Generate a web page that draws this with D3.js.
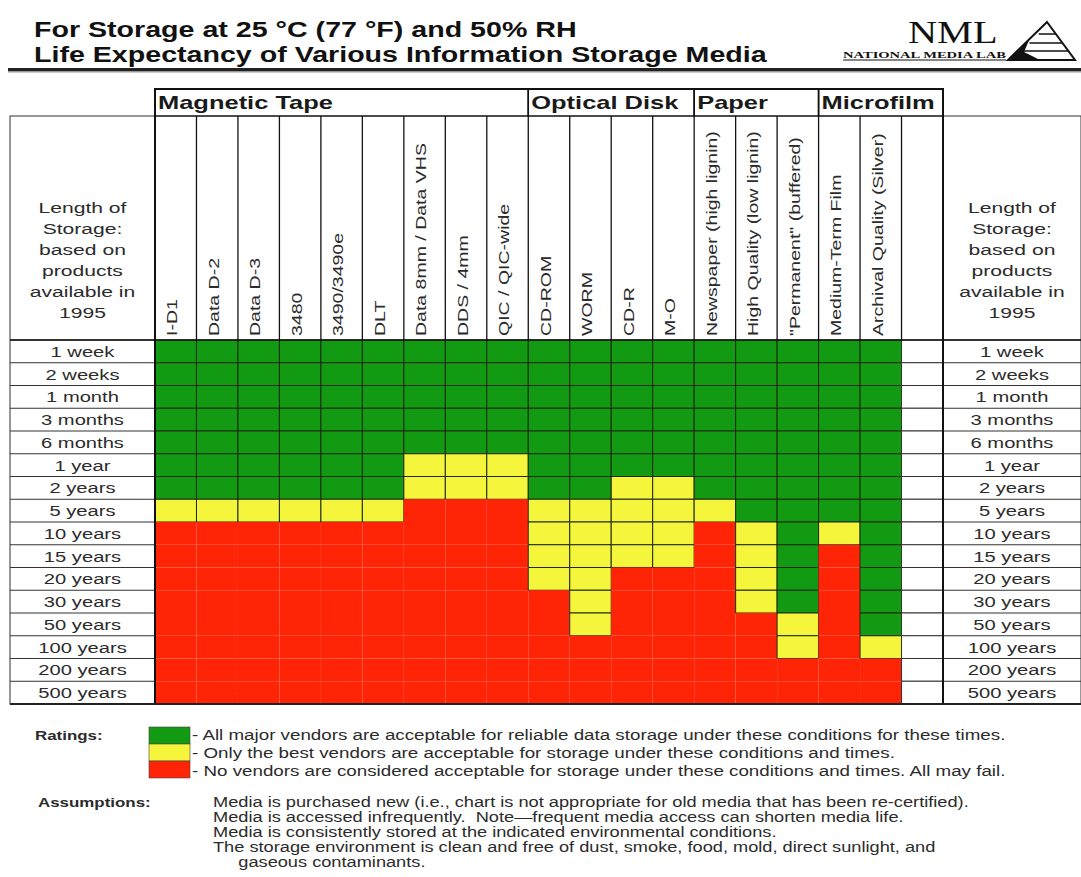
<!DOCTYPE html>
<html>
<head>
<meta charset="utf-8">
<script src="https://cdn.jsdelivr.net/npm/d3@7"></script>
<style>
	body { margin: 0; background: #fff; }
	text { font-family: "Liberation Sans", Arial, sans-serif; fill: #2b2b2b; }
</style>
</head>
<body>
<div id="chart"></div>
<script>
var titleLines = ['For Storage at 25 \u00B0C (77 \u00B0F) and 50% RH', 'Life Expectancy of Various Information Storage Media'];

var groupNames = ['Magnetic Tape', 'Optical Disk', 'Paper', 'Microfilm'];

var media = ['I-D1', 'Data D-2', 'Data D-3', '3480', '3490/3490e', 'DLT', 'Data 8mm / Data VHS', 'DDS / 4mm', 'QIC / QIC-wide',
	'CD-ROM', 'WORM', 'CD-R', 'M-O',
	'Newspaper (high lignin)', 'High Quality (low lignin)', '"Permanent" (buffered)',
	'Medium-Term Film', 'Archival Quality (Silver)'];
var mediaGroup = [0, 0, 0, 0, 0, 0, 0, 0, 0, 1, 1, 1, 1, 2, 2, 2, 3, 3];

var durations = ['1 week', '2 weeks', '1 month', '3 months', '6 months', '1 year', '2 years', '5 years',
	'10 years', '15 years', '20 years', '30 years', '50 years', '100 years', '200 years', '500 years'];

// rows rated green from the top, then rows rated yellow; the rest are red
var greenRows = [7, 7, 7, 7, 7, 7, 5, 5, 5, 7, 7, 6, 6, 7, 8, 12, 8, 13];
var yellowRows = [1, 1, 1, 1, 1, 1, 2, 2, 2, 4, 6, 4, 4, 1, 4, 2, 1, 1];

var sideHead = ['Length of', 'Storage:', 'based on', 'products', 'available in', '1995'];

var ratingText = [
	'- All major vendors are acceptable for reliable data storage under these conditions for these times.',
	'- Only the best vendors are acceptable for storage under these conditions and times.',
	'- No vendors are considered acceptable for storage under these conditions and times.  All may fail.'
];
var assumptionText = [
	'Media is purchased new (i.e., chart is not appropriate for old media that has been re-certified).',
	'Media is accessed infrequently.  Note\u2014frequent media access can shorten media life.',
	'Media is consistently stored at the indicated environmental conditions.',
	'The storage environment is clean and free of dust, smoke, food, mold, direct sunlight, and',
	'     gaseous contaminants.'
];

var colors = {'g': '#139a13', 'y': '#f5f53c', 'r': '#ff2406'};
var K = 1.3; // the source picture is stretched sideways

var width = 1081, height = 877;
var gridLeft = 155, gridRight = 943, headTop = 89, groupBottom = 116, dataTop = 340, dataBottom = 704;

var svg = d3.select('#chart').append('svg')
	.attr('width', width)
	.attr('height', height);

function stretch(sel, k) {
	sel.each(function() {
		var w = this.getComputedTextLength();
		d3.select(this)
			.attr('textLength', w * k)
			.attr('lengthAdjust', 'spacingAndGlyphs');
	});
}

var x = d3.scaleBand()
	.domain(media.concat(['']))
	.range([gridLeft, gridRight]);

var y = d3.scaleBand()
	.domain(durations)
	.range([dataTop, dataBottom]);

/*
 * Title and logo
 */
svg.selectAll('.title')
	.data(titleLines)
	.enter()
		.append('text')
			.attr('class', 'title')
			.attr('x', 34)
			.attr('y', function(d, i) { return 37 + i * 25; })
			.style('font-size', '22px')
			.style('font-weight', 'bold')
			.style('fill', '#111')
			.text(function(d) { return d; })
			.call(stretch, K);

svg.append('rect')
	.attr('x', 8).attr('y', 68)
	.attr('width', width - 8).attr('height', 3)
	.attr('fill', '#222');
svg.append('rect')
	.attr('x', 8).attr('y', 71)
	.attr('width', width - 8).attr('height', 1.5)
	.attr('fill', '#999');

svg.append('text')
	.attr('x', 908).attr('y', 43)
	.style('font-family', '"Liberation Serif", "DejaVu Serif", serif')
	.style('font-size', '31px')
	.style('fill', '#111')
	.text('NML')
	.call(stretch, K);

svg.append('text')
	.attr('x', 843).attr('y', 58)
	.attr('textLength', 163).attr('lengthAdjust', 'spacingAndGlyphs')
	.style('font-family', '"Liberation Serif", "DejaVu Serif", serif')
	.style('font-size', '8.5px')
	.style('font-weight', 'bold')
	.style('fill', '#111')
	.text('NATIONAL MEDIA LAB');

svg.append('line')
	.attr('x1', 843).attr('x2', 1006).attr('y1', 60).attr('y2', 60)
	.attr('stroke', '#111').attr('stroke-width', 1);

var tri = svg.append('g').attr('fill', 'none').attr('stroke', '#111');
tri.append('path')
	.attr('d', 'M1047,22 L1075,60 L1008,60 Z')
	.attr('stroke-width', 2);
[34, 43, 51].forEach(function(ty) {
	var t = (ty - 22) / 38;
	tri.append('line')
		.attr('x1', 1047 - 39 * t + 4).attr('x2', 1047 + 28 * t)
		.attr('y1', ty).attr('y2', ty)
		.attr('stroke-width', 1.5);
});
tri.append('path')
	.attr('d', 'M1008,60 L1030,38 L1024,52 L1040,60 Z')
	.attr('fill', '#111').attr('stroke', 'none');

/*
 * Cells
 */
var cells = [];
media.forEach(function(m, i) {
	durations.forEach(function(d, j) {
		var r = j < greenRows[i] ? 'g' : (j < greenRows[i] + yellowRows[i] ? 'y' : 'r');
		cells.push({'media': m, 'duration': d, 'rating': r});
	});
});

svg.selectAll('.cell')
	.data(cells)
	.enter()
		.append('rect')
			.attr('class', 'cell')
			.attr('x', function(d) { return x(d['media']); })
			.attr('y', function(d) { return y(d['duration']); })
			.attr('width', x.bandwidth())
			.attr('height', y.bandwidth())
			.attr('fill', function(d) { return colors[d['rating']]; })
			.attr('stroke', function(d) { return d['rating'] == 'r' ? 'none' : '#1e2a10'; })
			.attr('stroke-width', 1);

// empty last column
svg.selectAll('.blank')
	.data(durations)
	.enter()
		.append('rect')
			.attr('class', 'blank')
			.attr('x', x(''))
			.attr('y', function(d) { return y(d); })
			.attr('width', x.bandwidth())
			.attr('height', y.bandwidth())
			.attr('fill', '#fff')
			.attr('stroke', '#333');

/*
 * Header: groups and rotated media names
 */
var groups = groupNames.map(function(g, gi) {
	var cols = media.filter(function(m, i) { return mediaGroup[i] == gi; });
	var x0 = x(cols[0]);
	var x1 = gi == groupNames.length - 1 ? gridRight : x(cols[cols.length - 1]) + x.bandwidth();
	return {'name': g, 'x0': x0, 'x1': x1};
});

svg.selectAll('.groupBox')
	.data(groups)
	.enter()
		.append('rect')
			.attr('class', 'groupBox')
			.attr('x', function(d) { return d['x0']; })
			.attr('y', headTop)
			.attr('width', function(d) { return d['x1'] - d['x0']; })
			.attr('height', groupBottom - headTop)
			.attr('fill', 'none')
			.attr('stroke', '#111')
			.attr('stroke-width', 1.5);

svg.selectAll('.groupName')
	.data(groups)
	.enter()
		.append('text')
			.attr('class', 'groupName')
			.attr('x', function(d) { return d['x0'] + 3; })
			.attr('y', 109)
			.style('font-size', '19px')
			.style('font-weight', 'bold')
			.style('fill', '#1a1a1a')
			.text(function(d) { return d['name']; })
			.call(stretch, 1.34);

svg.selectAll('.colLine')
	.data(x.domain())
	.enter()
		.append('line')
			.attr('class', 'colLine')
			.attr('x1', function(d) { return x(d); })
			.attr('x2', function(d) { return x(d); })
			.attr('y1', groupBottom)
			.attr('y2', dataTop)
			.attr('stroke', '#111')
			.attr('stroke-width', 1.3);

svg.selectAll('.mediaName')
	.data(media)
	.enter()
		.append('text')
			.attr('class', 'mediaName')
			.attr('transform', function(d) {
				return 'translate(' + (x(d) + x.bandwidth() / 2 - 3.5) + ',' + (dataTop - 4) + ') rotate(-90)';
			})
			.attr('dy', '0.35em')
			.style('font-size', '15px')
			.text(function(d) { return d; })
			.call(stretch, K);

/*
 * Side tables with the storage lengths
 */
[[10, gridLeft], [gridRight, width]].forEach(function(side) {
	var g = svg.append('g');
	var cx = (side[0] + side[1]) / 2;

	g.append('rect')
		.attr('x', side[0]).attr('y', groupBottom)
		.attr('width', side[1] - side[0]).attr('height', dataBottom - groupBottom)
		.attr('fill', 'none').attr('stroke', '#333');

	g.selectAll('.rowLine')
		.data(durations)
		.enter()
			.append('line')
				.attr('x1', side[0]).attr('x2', side[1])
				.attr('y1', function(d) { return y(d); })
				.attr('y2', function(d) { return y(d); })
				.attr('stroke', '#333');

	g.selectAll('.rowName')
		.data(durations)
		.enter()
			.append('text')
				.attr('x', cx)
				.attr('y', function(d) { return y(d) + y.bandwidth() / 2; })
				.attr('dy', '0.35em')
				.attr('text-anchor', 'middle')
				.style('font-size', '15.5px')
				.text(function(d) { return d; })
				.call(stretch, K);

	g.selectAll('.headLine')
		.data(sideHead)
		.enter()
			.append('text')
				.attr('x', cx)
				.attr('y', function(d, i) { return 208 + i * 21; })
				.attr('dy', '0.35em')
				.attr('text-anchor', 'middle')
				.style('font-size', '15.5px')
				.text(function(d) { return d; })
				.call(stretch, 1.36);
});

// frame round the grid
svg.append('rect')
	.attr('x', gridLeft).attr('y', headTop)
	.attr('width', gridRight - gridLeft).attr('height', dataBottom - headTop)
	.attr('fill', 'none').attr('stroke', '#111').attr('stroke-width', 2);

svg.append('line')
	.attr('x1', 10).attr('x2', width).attr('y1', dataTop).attr('y2', dataTop)
	.attr('stroke', '#111').attr('stroke-width', 1.5);
svg.append('line')
	.attr('x1', 10).attr('x2', width).attr('y1', dataBottom).attr('y2', dataBottom)
	.attr('stroke', '#222').attr('stroke-width', 2);

/*
 * Ratings legend and assumptions
 */
svg.append('text')
	.attr('x', 35).attr('y', 740)
	.style('font-size', '13px').style('font-weight', 'bold')
	.text('Ratings:')
	.call(stretch, K);

svg.selectAll('.swatch')
	.data(['g', 'y', 'r'])
	.enter()
		.append('rect')
			.attr('class', 'swatch')
			.attr('x', 149)
			.attr('y', function(d, i) { return 727 + i * 17; })
			.attr('width', 41)
			.attr('height', 17)
			.attr('fill', function(d) { return colors[d]; })
			.attr('stroke', '#444')
			.attr('stroke-width', 0.6);

svg.selectAll('.ratingText')
	.data(ratingText)
	.enter()
		.append('text')
			.attr('class', 'ratingText')
			.attr('x', 192)
			.attr('y', function(d, i) { return 740 + i * 18; })
			.style('font-size', '14px')
			.text(function(d) { return d; })
			.call(stretch, 1.34);

svg.append('text')
	.attr('x', 38).attr('y', 807)
	.style('font-size', '13px').style('font-weight', 'bold')
	.text('Assumptions:')
	.call(stretch, K);

svg.selectAll('.assumption')
	.data(assumptionText)
	.enter()
		.append('text')
			.attr('class', 'assumption')
			.attr('x', 213)
			.attr('y', function(d, i) { return 807 + i * 15; })
			.style('font-size', '14px')
			.style('white-space', 'pre')
			.text(function(d) { return d; })
			.call(stretch, K);
</script>
</body>
</html>
